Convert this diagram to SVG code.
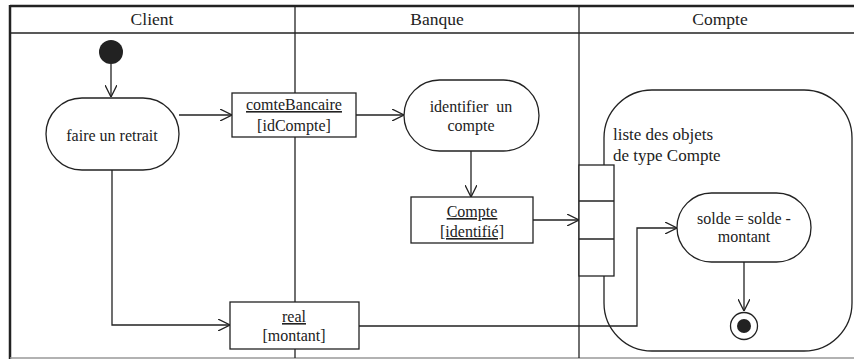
<svg xmlns="http://www.w3.org/2000/svg" width="854" height="360" viewBox="0 0 854 360" font-family="Liberation Serif, Times New Roman, serif">
<style>
.t{font-family:'Liberation Serif','Times New Roman',serif;font-size:16px;fill:#222;text-anchor:middle}
.hd{font-size:17.5px}
.lg{font-size:17px;text-anchor:start}
.ln{stroke:#222;stroke-width:1.3;fill:none}
.box{stroke:#222;stroke-width:1.3;fill:#fff}
.u{text-decoration:underline}
</style>
<defs>
<marker id="arr" viewBox="0 0 12 12" refX="12" refY="6" markerWidth="12" markerHeight="12" markerUnits="userSpaceOnUse" orient="auto">
<path d="M0,0 L12,6 L0,12" fill="none" stroke="#222" stroke-width="1.3"/>
</marker>
</defs>
<g id="frame">
<rect x="0" y="0" width="854" height="360" fill="#fff"/>
<line x1="10" y1="6" x2="854" y2="6" stroke="#222" stroke-width="2.5"/>
<line x1="10" y1="5" x2="10" y2="359" stroke="#222" stroke-width="2.5"/>
<line x1="10" y1="358" x2="854" y2="358" stroke="#999" stroke-width="1.5"/>
<line x1="10" y1="33" x2="854" y2="33" stroke="#222" stroke-width="1.3"/>
<line x1="295" y1="6" x2="295" y2="358" stroke="#222" stroke-width="1.3"/>
<line x1="579" y1="6" x2="579" y2="358" stroke="#222" stroke-width="1.3"/>
<text class="t hd" x="152" y="25">Client</text>
<text class="t hd" x="437" y="25">Banque</text>
<text class="t hd" x="720" y="25">Compte</text>
</g>
<g id="region">
<rect x="604" y="90" width="248" height="261" rx="48" ry="48" class="ln" stroke-width="1.5"/>
<text class="t lg" x="613" y="140">liste des objets</text>
<text class="t lg" x="613" y="161">de type Compte</text>
</g>
<g id="connectors">
<line class="ln" x1="111" y1="64" x2="111" y2="97" marker-end="url(#arr)"/>
<line class="ln" x1="179" y1="115" x2="232" y2="115" marker-end="url(#arr)"/>
<line class="ln" x1="356" y1="115" x2="404" y2="115" marker-end="url(#arr)"/>
<line class="ln" x1="471" y1="151" x2="471" y2="197" marker-end="url(#arr)"/>
<line class="ln" x1="533" y1="220" x2="579" y2="220" marker-end="url(#arr)"/>
<polyline class="ln" points="112,170 112,325 230,325" marker-end="url(#arr)"/>
<polyline class="ln" points="359,326 637,326 637,228 677,228" marker-end="url(#arr)"/>
<line class="ln" x1="744" y1="262" x2="744" y2="311" marker-end="url(#arr)"/>
</g>
<g id="start">
<circle cx="111" cy="52" r="12" fill="#222"/>
</g>
<g id="faire">
<rect class="box" x="46" y="98" width="133" height="72" rx="36" ry="36"/>
<text class="t" x="112" y="141">faire un retrait</text>
</g>
<g id="comteBancaire">
<rect class="box" x="232" y="93" width="124" height="44"/>
<text class="t u" x="294" y="110">comteBancaire</text>
<text class="t" x="294" y="131">[idCompte]</text>
</g>
<g id="identifier">
<rect class="box" x="404" y="80" width="135" height="71" rx="35.5" ry="35.5"/>
<text class="t" x="471" y="112" xml:space="preserve">identifier  un</text>
<text class="t" x="471" y="131">compte</text>
</g>
<g id="compte">
<rect class="box" x="411" y="197" width="122" height="46"/>
<text class="t u" x="472" y="217">Compte</text>
<text class="t u" x="472" y="237">[identifié]</text>
</g>
<g id="pin">
<rect class="box" x="579" y="165" width="35" height="111"/>
<line class="ln" x1="579" y1="201" x2="614" y2="201"/>
<line class="ln" x1="579" y1="239" x2="614" y2="239"/>
</g>
<g id="solde">
<rect class="box" x="677" y="193" width="134" height="69" rx="34.5" ry="34.5"/>
<text class="t" x="744" y="224">solde = solde -</text>
<text class="t" x="744" y="242">montant</text>
</g>
<g id="real">
<rect class="box" x="230" y="302" width="129" height="47"/>
<text class="t u" x="294" y="322">real</text>
<text class="t" x="294" y="341">[montant]</text>
</g>
<g id="end">
<circle cx="744" cy="326" r="13.5" fill="#fff" stroke="#222" stroke-width="1.3"/>
<circle cx="744" cy="326" r="7" fill="#222"/>
</g>
</svg>
